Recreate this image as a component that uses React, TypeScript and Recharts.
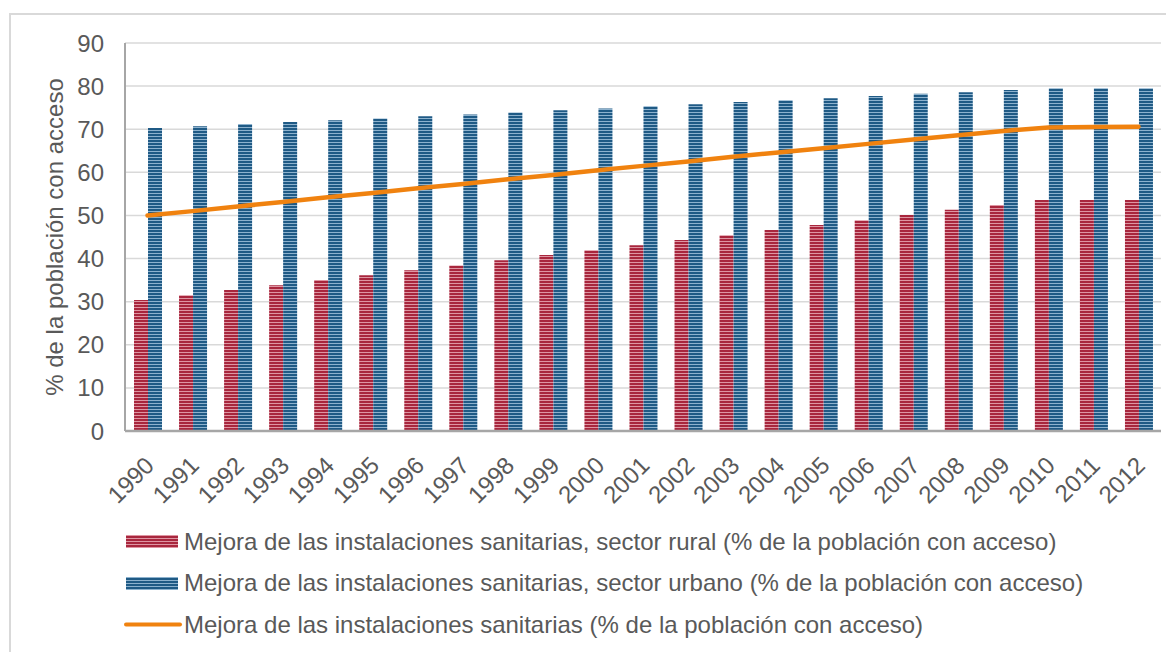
import React from "react";
import {
  ComposedChart,
  Bar,
  Line,
  XAxis,
  YAxis,
  CartesianGrid,
  Legend,
} from "recharts";

const years = [
  "1990", "1991", "1992", "1993", "1994", "1995", "1996", "1997", "1998", "1999", "2000", "2001",
  "2002", "2003", "2004", "2005", "2006", "2007", "2008", "2009", "2010", "2011", "2012",
];

const rural = [
  30.4, 31.5, 32.7, 33.8, 35.0, 36.1, 37.3, 38.4, 39.6, 40.8, 41.9, 43.1,
  44.3, 45.4, 46.6, 47.8, 48.9, 50.1, 51.3, 52.4, 53.6, 53.6, 53.6,
];

const urbano = [
  70.3, 70.7, 71.2, 71.7, 72.1, 72.5, 73.0, 73.4, 73.9, 74.4, 74.8, 75.3,
  75.8, 76.3, 76.7, 77.2, 77.7, 78.2, 78.6, 79.1, 79.5, 79.5, 79.5,
];

const total = [
  50.0, 51.0, 52.1, 53.1, 54.2, 55.2, 56.3, 57.3, 58.4, 59.4, 60.5, 61.5,
  62.5, 63.6, 64.6, 65.6, 66.6, 67.6, 68.6, 69.6, 70.4, 70.5, 70.6,
];

const yTicks = [0, 10, 20, 30, 40, 50, 60, 70, 80, 90];

const seriesNames = [
  "Mejora de las instalaciones sanitarias, sector rural (% de la población con acceso)",
  "Mejora de las instalaciones sanitarias, sector urbano (% de la población con acceso)",
  "Mejora de las instalaciones sanitarias (% de la población con acceso)",
];

const yLabel = "% de la población con acceso";

const data = years.map((year, i) => ({
  year,
  rural: rural[i],
  urbano: urbano[i],
  total: total[i],
}));

const FONT = "'Liberation Sans', Arial, sans-serif";
const TEXT = "#595959";
const ORANGE = "#F0820F";
const FS = 24;

function XTick(props: any) {
  const { x, y, payload } = props;
  const tx = x + 2;
  const ty = y + 30;
  return (
    <text
      x={tx}
      y={ty}
      dy="0.35em"
      textAnchor="end"
      transform={`rotate(-45, ${tx}, ${ty})`}
      fill={TEXT}
      fontSize={FS}
      fontFamily={FONT}
    >
      {payload.value}
    </text>
  );
}

function YLabel(props: any) {
  const { viewBox } = props;
  const cx = 47;
  const cy = viewBox.y + viewBox.height / 2;
  return (
    <text
      x={cx}
      y={cy}
      dy="0.35em"
      textAnchor="middle"
      transform={`rotate(-90, ${cx}, ${cy})`}
      fill={TEXT}
      fontSize={FS}
      fontFamily={FONT}
    >
      {yLabel}
    </text>
  );
}

function LegendBox() {
  const swatches = [
    <rect key="r" x={2} y={8} width={52} height={13} fill="url(#stripeRed)" />,
    <rect key="u" x={2} y={8} width={52} height={13} fill="url(#stripeBlue)" />,
    <line key="t" x1={2} y1={14.5} x2={56} y2={14.5} stroke={ORANGE} strokeWidth={4} strokeLinecap="round" />,
  ];
  return (
    <div style={{ fontFamily: FONT, fontSize: FS, color: TEXT }}>
      {seriesNames.map((name, i) => (
        <div key={name} style={{ display: "flex", alignItems: "center", height: 41.5 }}>
          <svg width={60} height={29} style={{ display: "block" }}>
            {swatches[i]}
          </svg>
          <span style={{ whiteSpace: "nowrap" }}>{name}</span>
        </div>
      ))}
    </div>
  );
}

export default function App() {
  return (
    <div style={{ position: "relative", width: 1166, height: 644, overflow: "hidden", background: "#fff" }}>
      <div
        style={{
          position: "absolute",
          left: 1,
          top: 5,
          width: 1400,
          height: 1400,
          border: "2px solid #d9d9d9",
        }}
      />
      <div style={{ position: "absolute", left: 0, top: 0 }}>
        <ComposedChart
          width={1166}
          height={644}
          data={data}
          margin={{ top: 35, right: 13, bottom: 220, left: 0 }}
          barGap={0}
          barCategoryGap="20%"
        >
          <defs>
            <pattern id="stripeRed" patternUnits="userSpaceOnUse" width={4} height={3}>
              <rect x={0} y={0} width={4} height={3} fill="#DE95A2" />
              <rect x={0} y={0} width={4} height={2} fill="#A8263D" />
            </pattern>
            <pattern id="stripeBlue" patternUnits="userSpaceOnUse" width={4} height={3}>
              <rect x={0} y={0} width={4} height={3} fill="#8DB2CE" />
              <rect x={0} y={0} width={4} height={2} fill="#1F5A85" />
            </pattern>
          </defs>
          <CartesianGrid vertical={false} stroke="#d9d9d9" strokeWidth={1.5} />
          <XAxis
            dataKey="year"
            tickLine={false}
            tickSize={0}
            tickMargin={0}
            interval={0}
            axisLine={{ stroke: "#a6a6a6", strokeWidth: 2.5 }}
            tick={<XTick />}
            height={1}
          />
          <YAxis
            width={117}
            domain={[0, 90]}
            ticks={yTicks}
            interval={0}
            tickLine={false}
            tickSize={0}
            tickMargin={21}
            axisLine={{ stroke: "#a6a6a6", strokeWidth: 2 }}
            tick={{ fill: TEXT, fontSize: FS, fontFamily: FONT }}
            label={<YLabel />}
          />
          <Legend
            layout="vertical"
            align="center"
            verticalAlign="middle"
            wrapperStyle={{ left: 116, top: 513, width: 1040, height: 125 }}
            content={() => <LegendBox />}
          />
          <Bar dataKey="rural" name={seriesNames[0]} fill="url(#stripeRed)" isAnimationActive={false} />
          <Bar dataKey="urbano" name={seriesNames[1]} fill="url(#stripeBlue)" isAnimationActive={false} />
          <Line
            dataKey="total"
            name={seriesNames[2]}
            type="linear"
            stroke={ORANGE}
            strokeWidth={4.5}
            strokeLinecap="round"
            dot={false}
            isAnimationActive={false}
          />
        </ComposedChart>
      </div>
    </div>
  );
}
